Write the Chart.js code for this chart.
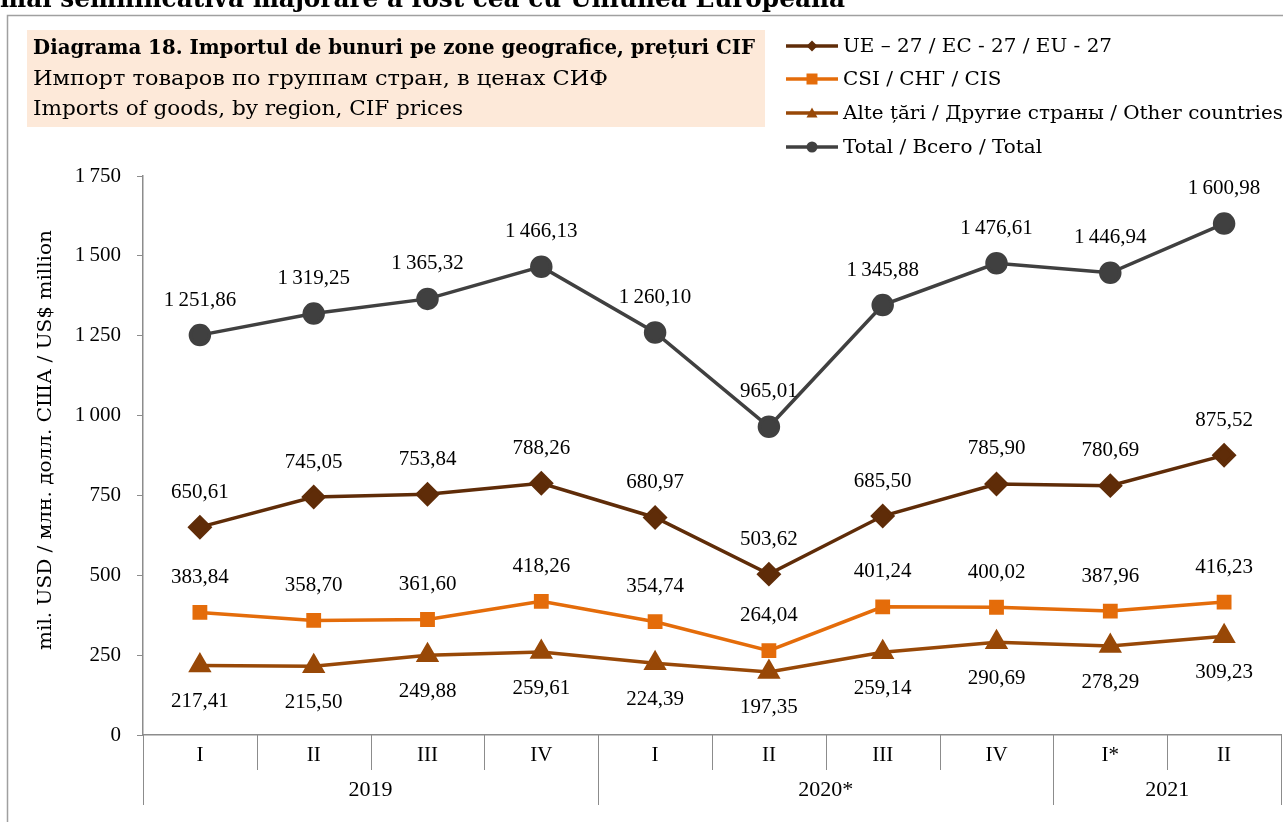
<!DOCTYPE html>
<html><head><meta charset="utf-8">
<script src="https://cdn.jsdelivr.net/npm/chart.js@4"></script>
<style>html,body{margin:0;padding:0;background:#fff;}#wrap{width:1283px;height:822px;position:relative;}</style>
</head><body><div id="wrap"><canvas id="c" width="1283" height="822"></canvas></div>
<script>
const categories = ['I','II','III','IV','I','II','III','IV','I*','II'];
const yearLabels = ['2019','2020*','2021'];
const yearSpans = [4,4,2];
const yTicks = [0,250,500,750,1000,1250,1500,1750];
const seriesNames = ['UE – 27 / EC - 27 / EU - 27','CSI / СНГ / CIS','Alte țări / Другие страны / Other countries','Total / Всего / Total'];
const euValues = [650.61,745.05,753.84,788.26,680.97,503.62,685.50,785.90,780.69,875.52];
const cisValues = [383.84,358.70,361.60,418.26,354.74,264.04,401.24,400.02,387.96,416.23];
const otherValues = [217.41,215.50,249.88,259.61,224.39,197.35,259.14,290.69,278.29,309.23];
const totalValues = [1251.86,1319.25,1365.32,1466.13,1260.10,965.01,1345.88,1476.61,1446.94,1600.98];
const titleLines = ['Diagrama 18. Importul de bunuri pe zone geografice, prețuri CIF','Импорт товаров по группам стран, в ценах СИФ','Imports of goods, by region, CIF prices'];
const headingText = 'mai semnificativă majorare a fost cea cu Uniunea Europeană';
const yAxisTitle = 'mil. USD / млн. долл. США / US$ million';

const FONT = '"Liberation Serif", serif';
const TFONT = '"DejaVu Serif", serif';
function fmt(v, dec){
  const s = v.toFixed(dec);
  const [ip, fp] = s.split('.');
  const ipS = ip.replace(/\B(?=(\d{3})+(?!\d))/g, '\u2009');
  return fp ? ipS + ',' + fp : ipS;
}
function fitText(ctx, text, x, y, width){
  const w = ctx.measureText(text).width;
  ctx.save();
  ctx.translate(x, y);
  if (width && w > 0) ctx.scale(width / w, 1);
  ctx.fillText(text, 0, 0);
  ctx.restore();
}

const labelPos = ['above','above','below','above'];

const decor = {
  id:'decor',
  beforeDraw(chart){
    const ctx = chart.ctx;
    ctx.save();
    ctx.fillStyle = '#fff';
    ctx.fillRect(0,0,chart.width,chart.height);
    ctx.fillStyle = '#000';
    ctx.font = 'bold 26px ' + TFONT;
    ctx.textBaseline = 'alphabetic';
    ctx.textAlign = 'left';
    fitText(ctx, headingText, 0, 7, 845);
    ctx.strokeStyle = '#a0a0a0';
    ctx.lineWidth = 1.5;
    ctx.strokeRect(7.5, 15.5, chart.width + 20, chart.height + 20);
    ctx.fillStyle = '#fde9d9';
    ctx.fillRect(27, 30, 738, 97);
    ctx.fillStyle = '#000';
    ctx.textBaseline = 'middle';
    ctx.font = 'bold 20px ' + TFONT;
    fitText(ctx, titleLines[0], 33, 49, 722);
    ctx.font = '20px ' + TFONT;
    fitText(ctx, titleLines[1], 33, 80, 575);
    fitText(ctx, titleLines[2], 33, 110, 430);
    ctx.save();
    ctx.translate(46, 440);
    ctx.rotate(-Math.PI/2);
    ctx.textAlign = 'center';
    ctx.font = '19px ' + TFONT;
    const w = ctx.measureText(yAxisTitle).width;
    ctx.scale(420 / w, 1);
    ctx.fillText(yAxisTitle, 0, 0);
    ctx.restore();
    ctx.restore();
  },
  afterDraw(chart){
    const ctx = chart.ctx;
    const x = chart.scales.x;
    const area = chart.chartArea;
    ctx.save();
    ctx.strokeStyle = '#8c8c8c';
    ctx.lineWidth = 1;
    const step = x.getPixelForValue(1) - x.getPixelForValue(0);
    const bounds = [];
    for (let i = 0; i <= categories.length; i++) bounds.push(x.getPixelForValue(i) - step/2);
    const yearBounds = new Set([0]);
    let acc = 0;
    yearSpans.forEach(s => { acc += s; yearBounds.add(acc); });
    bounds.forEach((bx, i) => {
      const px = Math.round(bx) + 0.5;
      ctx.beginPath();
      ctx.moveTo(px, area.bottom);
      ctx.lineTo(px, yearBounds.has(i) ? area.bottom + 70 : area.bottom + 35);
      ctx.stroke();
    });
    ctx.fillStyle = '#000';
    ctx.font = '21px ' + FONT;
    ctx.textAlign = 'center';
    ctx.textBaseline = 'middle';
    categories.forEach((c, i) => ctx.fillText(c, x.getPixelForValue(i), area.bottom + 20));
    acc = 0;
    ctx.font = '22px ' + FONT;
    yearLabels.forEach((yl, k) => {
      const mid = (bounds[acc] + bounds[acc + yearSpans[k]]) / 2;
      ctx.fillText(yl, mid, area.bottom + 55);
      acc += yearSpans[k];
    });
    ctx.font = '21px ' + FONT;
    chart.data.datasets.forEach((ds, di) => {
      const meta = chart.getDatasetMeta(di);
      meta.data.forEach((pt, i) => {
        const off = labelPos[di] === 'above' ? -35 : 36;
        ctx.fillText(fmt(ds.data[i], 2), pt.x, pt.y + off);
      });
    });
    const ly = [46, 79, 113, 147];
    ctx.font = '19px ' + TFONT;
    const legendScale = 440 / ctx.measureText(chart.data.datasets[2].label).width;
    chart.data.datasets.forEach((ds, di) => {
      ctx.strokeStyle = ds.borderColor;
      ctx.lineWidth = 3.5;
      ctx.beginPath();
      ctx.moveTo(786, ly[di]);
      ctx.lineTo(838, ly[di]);
      ctx.stroke();
      ctx.fillStyle = ds.pointBackgroundColor;
      drawMarker(ctx, ds.pointStyle, 812, ly[di], 5.5);
      ctx.fillStyle = '#000';
      ctx.textAlign = 'left';
      ctx.save();
      ctx.translate(843, ly[di] + 1);
      ctx.scale(legendScale, 1);
      ctx.fillText(ds.label, 0, 0);
      ctx.restore();
    });
    ctx.restore();
  }
};
function drawMarker(ctx, style, x, y, r){
  ctx.beginPath();
  if (style === 'circle') ctx.arc(x, y, r, 0, Math.PI*2);
  else if (style === 'rect') ctx.rect(x - r, y - r, 2*r, 2*r);
  else if (style === 'rectRot') { ctx.moveTo(x, y - r); ctx.lineTo(x + r, y); ctx.lineTo(x, y + r); ctx.lineTo(x - r, y); ctx.closePath(); }
  else if (style === 'triangle') { ctx.moveTo(x, y - r); ctx.lineTo(x + r, y + r*0.8); ctx.lineTo(x - r, y + r*0.8); ctx.closePath(); }
  ctx.fill();
}

function mk(label, data, color, style, radius){
  return { label, data, borderColor: color, backgroundColor: color, pointBackgroundColor: color, pointBorderColor: color,
    pointStyle: style, pointRadius: radius, pointHoverRadius: radius, borderWidth: 3.5, tension: 0, fill: false, clip: false };
}

new Chart(document.getElementById('c'), {
  type: 'line',
  data: {
    labels: categories,
    datasets: [
      mk(seriesNames[0], euValues, '#5f2c08', 'rectRot', 10),
      mk(seriesNames[1], cisValues, '#e46c0a', 'rect', 8),
      mk(seriesNames[2], otherValues, '#984807', 'triangle', 10),
      mk(seriesNames[3], totalValues, '#404040', 'circle', 9.5)
    ]
  },
  options: {
    responsive: false,
    animation: false,
    events: [],
    layout: { autoPadding: false, padding: { left: 0, top: 176, right: 2, bottom: 0 } },
    plugins: { legend: { display: false }, tooltip: { enabled: false }, title: { display: false } },
    scales: {
      x: {
        offset: true,
        grid: { display: false },
        border: { display: true, color: '#8c8c8c', width: 1.5 },
        ticks: { display: false },
        afterFit(s){ s.height = 87; }
      },
      y: {
        min: 0, max: 1750,
        afterBuildTicks(s){ s.ticks = yTicks.map(v => ({ value: v })); },
        grid: { drawOnChartArea: false, drawTicks: true, tickLength: 6, color: '#8c8c8c' },
        border: { display: true, color: '#8c8c8c', width: 1.5 },
        ticks: { color: '#000', padding: 16, font: { family: FONT, size: 21 }, callback: v => fmt(v, 0) },
        afterFit(s){ s.width = 143; }
      }
    }
  },
  plugins: [decor]
});
</script></body></html>
